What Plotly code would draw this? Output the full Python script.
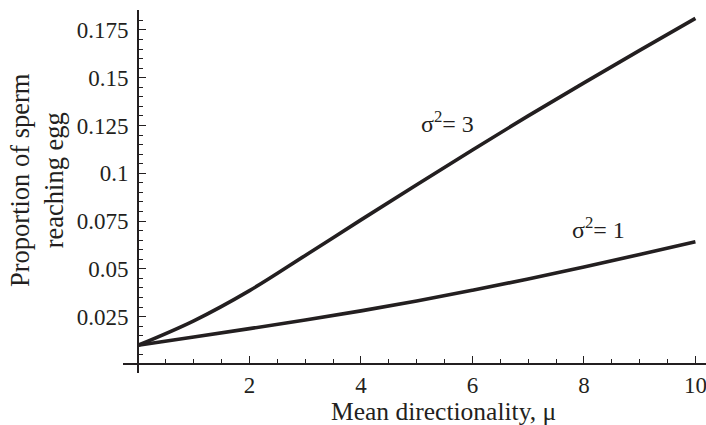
import plotly.graph_objects as go

# Data
mu = [0, 1, 2, 3, 4, 5, 6, 7, 8, 9, 10]
sigma1 = [0.010, 0.0143, 0.0187, 0.0232, 0.0280, 0.0332, 0.0388, 0.0447, 0.0510, 0.0575, 0.0642]
sigma3 = [0.010, 0.0228, 0.0386, 0.0570, 0.0756, 0.0940, 0.1122, 0.1300, 0.1473, 0.1643, 0.1810]

x_ticks = [2, 4, 6, 8, 10]
x_ticktext = ["2", "4", "6", "8", "10"]
y_ticks = [0.025, 0.05, 0.075, 0.1, 0.125, 0.15, 0.175]
y_ticktext = ["0.025", "0.05", "0.075", "0.1", "0.125", "0.15", "0.175"]

x_range = [-0.27, 10.19]
y_range = [-0.0045, 0.1854]

INK = "#231f20"
FONT = "Liberation Serif"
TICK_SIZE = 23
TITLE_SIZE = 25.5
LABEL_SIZE = 24

fig = go.Figure()
for ys in (sigma1, sigma3):
    fig.add_trace(go.Scatter(x=mu, y=ys, mode="lines",
                             line=dict(color=INK, width=3.6, shape="spline", smoothing=1.0),
                             showlegend=False, hoverinfo="skip"))

xpos = (0 - y_range[0]) / (y_range[1] - y_range[0])
ypos = (0 - x_range[0]) / (x_range[1] - x_range[0])

fig.update_layout(
    width=706, height=425,
    margin=dict(l=123, r=0, t=10, b=52),
    paper_bgcolor="white", plot_bgcolor="white",
    font=dict(family=FONT, color=INK, size=TICK_SIZE),
    xaxis=dict(range=x_range, anchor="free", position=xpos,
               showline=True, linecolor=INK, linewidth=1.8,
               showgrid=False, zeroline=False,
               tickmode="array", tickvals=x_ticks, ticktext=x_ticktext,
               ticks="inside", ticklen=7, tickwidth=1.3, tickcolor=INK,
               ticklabelstandoff=0, ticklabeloverflow="allow",
               minor=dict(tickmode="linear", tick0=0, dtick=0.5, ticks="inside",
                          ticklen=4, tickwidth=1.1, tickcolor=INK, showgrid=False),
               tickfont=dict(size=TICK_SIZE, family=FONT, color=INK)),
    yaxis=dict(range=y_range, anchor="free", position=ypos,
               showline=True, linecolor=INK, linewidth=1.8,
               showgrid=False, zeroline=False,
               tickmode="array", tickvals=y_ticks, ticktext=y_ticktext,
               ticks="inside", ticklen=7, tickwidth=1.3, tickcolor=INK,
               ticklabelstandoff=4, ticklabeloverflow="allow",
               minor=dict(tickmode="linear", tick0=0, dtick=0.005, ticks="inside",
                          ticklen=4, tickwidth=1.1, tickcolor=INK, showgrid=False),
               tickfont=dict(size=TICK_SIZE, family=FONT, color=INK)),
)

fig.add_annotation(text="Mean directionality, μ", xref="paper", yref="paper",
                   x=(443 - 123) / 583, y=(373 - 411) / 363,
                   xanchor="center", yanchor="middle", showarrow=False,
                   font=dict(size=TITLE_SIZE, family=FONT, color=INK))
fig.add_annotation(text="Proportion of sperm<br>reaching egg", xref="paper", yref="paper",
                   x=(37 - 123) / 583, y=(373 - 180) / 363, textangle=-90,
                   xanchor="center", yanchor="middle", showarrow=False,
                   font=dict(size=TITLE_SIZE + 1, family=FONT, color=INK))
fig.add_annotation(text="σ<sup>2</sup>= 3", x=5.56, y=0.1268, xref="x", yref="y",
                   showarrow=False, xanchor="center", yanchor="middle",
                   font=dict(size=LABEL_SIZE, family=FONT, color=INK))
fig.add_annotation(text="σ<sup>2</sup>= 1", x=8.26, y=0.0712, xref="x", yref="y",
                   showarrow=False, xanchor="center", yanchor="middle",
                   font=dict(size=LABEL_SIZE, family=FONT, color=INK))

fig.write_html("out.html")
